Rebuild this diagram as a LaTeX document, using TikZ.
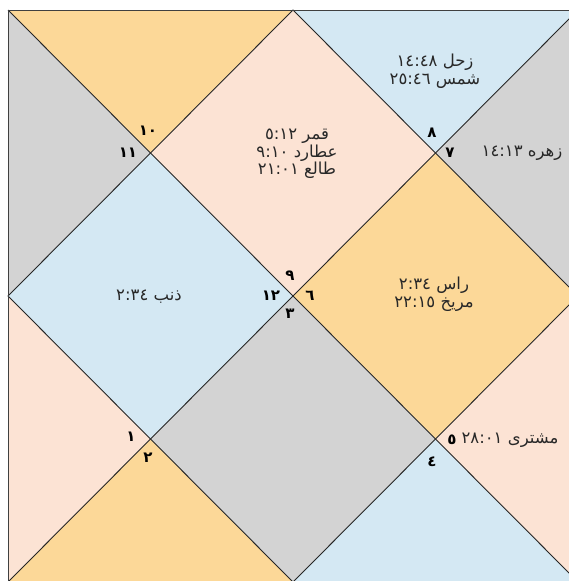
\documentclass[tikz,border=0pt]{standalone}
\usepackage{fontspec}
\newfontfamily\arabicfont[Script=Arabic]{DejaVu Sans}
\TeXXeTstate=1
\definecolor{corange}{RGB}{252,216,152}
\definecolor{cpeach}{RGB}{252,227,212}
\definecolor{cblue}{RGB}{212,232,243}
\definecolor{cgray}{RGB}{211,211,211}
\definecolor{ctext}{RGB}{40,40,40}
\begin{document}
\begin{tikzpicture}[x=1pt,y=-1pt,
  txt/.style={font=\arabicfont\fontsize{16.5}{17.5}\selectfont, align=center, text=ctext, inner sep=0pt},
  num/.style={font=\arabicfont\bfseries\fontsize{15}{15}\selectfont, text=black, inner sep=0pt},
  grid/.style={draw=black!85, line width=0.9pt}]
\useasboundingbox (0,0) rectangle (569,581);
\clip (0,0) rectangle (569,581);
\fill[white] (0,0) rectangle (569,581);
\coordinate (TL) at (8,10);
\coordinate (TM) at (293,10);
\coordinate (TR) at (578,10);
\coordinate (LM) at (8,296);
\coordinate (C) at (293,296);
\coordinate (RM) at (578,296);
\coordinate (BL) at (8,582);
\coordinate (BM) at (293,582);
\coordinate (BR) at (578,582);
\coordinate (A) at (150.5,153);
\coordinate (B) at (435.5,153);
\coordinate (D) at (150.5,439);
\coordinate (E) at (435.5,439);
% fills
\fill[corange] (TL) -- (TM) -- (A) -- cycle;
\fill[cgray] (TL) -- (A) -- (LM) -- cycle;
\fill[cpeach] (A) -- (TM) -- (B) -- (C) -- cycle;
\fill[cblue] (TM) -- (TR) -- (B) -- cycle;
\fill[cgray] (TR) -- (RM) -- (B) -- cycle;
\fill[cblue] (LM) -- (A) -- (C) -- (D) -- cycle;
\fill[corange] (C) -- (B) -- (RM) -- (E) -- cycle;
\fill[cgray] (C) -- (E) -- (BM) -- (D) -- cycle;
\fill[cpeach] (LM) -- (D) -- (BL) -- cycle;
\fill[corange] (BL) -- (D) -- (BM) -- cycle;
\fill[cblue] (BM) -- (E) -- (BR) -- cycle;
\fill[cpeach] (RM) -- (BR) -- (E) -- cycle;
% lines
\draw[grid] (TL) -- (BR);
\draw[grid] (TR) -- (BL);
\draw[grid] (TM) -- (LM) -- (BM) -- (RM) -- cycle;
\draw[draw=black!75, line width=1pt] (TL) rectangle (BR);
% texts
\node[txt] (h8) at (435,71) {\beginR زحل ١٤:٤٨\endR\\\beginR شمس ٢٥:٤٦\endR};
\node[txt] (h9) at (297,154) {\beginR قمر ٥:١٢\endR\\\beginR عطارد ٩:١٠\endR\\\beginR طالع ٢١:٠١\endR};
\node[txt] (h7) at (522,153) {\beginR زهره ١٤:١٣\endR};
\node[txt] (h12) at (149,297) {\beginR ذنب ٢:٣٤\endR};
\node[txt] (h6) at (434,294) {\beginR راس ٢:٣٤\endR\\\beginR مریخ ٢٢:١٥\endR};
\node[txt] (h5) at (510,440) {\beginR مشتری ٢٨:٠١\endR};
% house numbers
\node[num] (n10) at (148,131) {١٠};
\node[num] (n11) at (128,153) {١١};
\node[num] (n8) at (432,133) {٨};
\node[num] (n7) at (450,153) {٧};
\node[num] (n9) at (290,276) {٩};
\node[num] (n12) at (271,296) {١٢};
\node[num] (n6) at (310,296) {٦};
\node[num] (n3) at (290,314) {٣};
\node[num] (n1) at (131,437) {١};
\node[num] (n2) at (148,458) {٢};
\node[num] (n5) at (452,440) {٥};
\node[num] (n4) at (432,462) {٤};
\end{tikzpicture}
\end{document}
